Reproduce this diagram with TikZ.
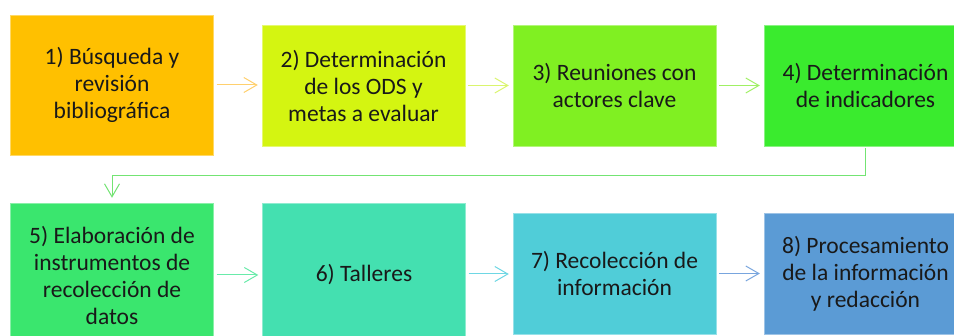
\documentclass[tikz,border=0pt]{standalone}
\usepackage{fontspec}
\setmainfont{Carlito}
\usetikzlibrary{arrows.meta}
\definecolor{pasoA}{RGB}{255,192,0}
\definecolor{pasoB}{RGB}{212,245,17}
\definecolor{pasoC}{RGB}{128,240,34}
\definecolor{pasoD}{RGB}{58,235,46}
\definecolor{pasoE}{RGB}{58,230,110}
\definecolor{pasoF}{RGB}{68,224,176}
\definecolor{pasoG}{RGB}{80,205,216}
\definecolor{pasoH}{RGB}{91,155,213}
\tikzset{
  paso/.style={rectangle, minimum width=203pt, inner sep=0pt, align=center,
    text=black!90, font=\fontsize{23.5}{27}\selectfont},
  flecha/.style={line width=1pt, -{Straight Barb[length=13pt,width=15pt,line width=1pt]},
    shorten <=3pt, shorten >=4pt}
}
\begin{document}
\begin{tikzpicture}[x=1pt, y=-1pt]
		%%%%% START %%%%%
		\clip (0, 0) rectangle (954, 336);
		\fill[white] (0, 0) rectangle (954, 336);
		
		\node[paso, fill=pasoA, draw=pasoA!60, minimum height=140pt] (p1) at (112, 85) {1) Búsqueda y\\revisión\\bibliográfica};
		\node[paso, fill=pasoB, draw=pasoB!60, minimum height=121pt] (p2) at (363.5, 85.5) {2) Determinación\\de los ODS y\\metas a evaluar};
		\node[paso, fill=pasoC, draw=pasoC!60, minimum height=121pt] (p3) at (614.5, 85.5) {3) Reuniones con\\actores clave};
		\node[paso, fill=pasoD, draw=pasoD!60, minimum height=121pt] (p4) at (865.5, 85.5) {4) Determinación\\de indicadores};
		
		\node[paso, fill=pasoE, draw=pasoE!60, minimum height=144pt] (p5) at (112, 275) {5) Elaboración de\\instrumentos de\\recolección de\\datos};
		\node[paso, fill=pasoF, draw=pasoF!60, minimum height=144pt] (p6) at (364, 275) {6) Talleres};
		\node[paso, fill=pasoG, draw=pasoG!60, minimum height=121pt] (p7) at (614.5, 273.5) {7) Recolección de\\información};
		\node[paso, fill=pasoH, draw=pasoH!60, minimum height=121pt] (p8) at (865.5, 273.5) {8) Procesamiento\\de la información\\y redacción};
		
		\draw[flecha, draw={rgb,255:red,255;green,208;blue,110}] (p1.east |- 0, 85) -- (p2.west |- 0, 85);
		\draw[flecha, draw={rgb,255:red,218;green,245;blue,110}] (p2) -- (p3);
		\draw[flecha, draw={rgb,255:red,160;green,240;blue,100}] (p3) -- (p4);
		\draw[flecha, shorten <=2pt, shorten >=5pt, draw={rgb,255:red,115;green,228;blue,115}] (p4.south) -- ++(0, 29) -| (p5.north);
		\draw[flecha, draw={rgb,255:red,105;green,235;blue,170}] (p5) -- (p6);
		\draw[flecha, draw={rgb,255:red,110;green,215;blue,228}] (p6.east |- 0, 274) -- (p7.west |- 0, 274);
		\draw[flecha, draw={rgb,255:red,120;green,165;blue,222}] (p7) -- (p8);
		%%%%% END %%%%%
	\end{tikzpicture}
\end{document}
